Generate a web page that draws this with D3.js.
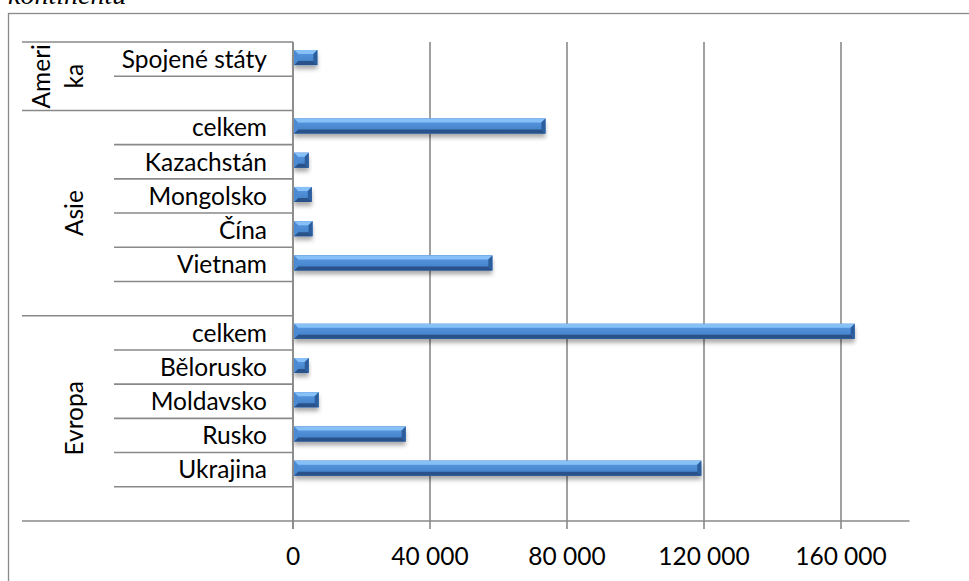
<!DOCTYPE html>
<html>
<head>
<meta charset="utf-8">
<script src="https://cdn.jsdelivr.net/npm/d3@7"></script>
<style>
  html, body { margin: 0; padding: 0; background: #ffffff; }
  svg { display: block; }
</style>
</head>
<body>
<svg id="chart" width="969" height="581"></svg>
<script>
// ---- data (top-to-bottom order as displayed) ----
const categories = ["Spojené státy", "", "celkem", "Kazachstán", "Mongolsko", "Čína", "Vietnam", "",
                    "celkem", "Bělorusko", "Moldavsko", "Rusko", "Ukrajina", ""];
const categoryGroups = ["Amerika", "Amerika", "Asie", "Asie", "Asie", "Asie", "Asie", "Asie",
                        "Evropa", "Evropa", "Evropa", "Evropa", "Evropa", "Evropa"];
const values = [7100, null, 73700, 4600, 5500, 5700, 58200, null,
                164000, 4600, 7500, 32900, 119200, null];
const groups = ["Amerika", "Asie", "Evropa"];
const groupLabelLines = [["Ameri", "ka"], ["Asie"], ["Evropa"]];
const tickValues = [0, 40000, 80000, 120000, 160000];
const axisMax = 180000;
const titleText = "kontinentu";

// ---- layout ----
const svg = d3.select("#chart");
const W = 969, H = 581;
const plotLeft = 293, plotRight = 909.5, plotTop = 42, plotBottom = 521;
const lineColor = "#898989";
const fontFamily = "Lato, 'Open Sans', sans-serif";
const fontSize = 24.5;

const x = d3.scaleLinear().domain([0, axisMax]).range([plotLeft, plotRight]);
const y = d3.scaleBand().domain(d3.range(categories.length)).range([plotTop, plotBottom]);

const fmt = d3.formatLocale({decimal: ",", thousands: " ", grouping: [3], currency: ["", ""]}).format(",d");

// defs: shadow
const defs = svg.append("defs");
const f = defs.append("filter").attr("id", "shadow").attr("x", "-20%").attr("y", "-50%").attr("width", "140%").attr("height", "250%");
f.append("feDropShadow").attr("dx", 0).attr("dy", 4).attr("stdDeviation", 2.2)
  .attr("flood-color", "#000").attr("flood-opacity", 0.33);
const g1 = defs.append("linearGradient").attr("id", "face").attr("x1", 0).attr("y1", 0).attr("x2", 0).attr("y2", 1);
g1.append("stop").attr("offset", "0%").attr("stop-color", "#5b9be3");
g1.append("stop").attr("offset", "100%").attr("stop-color", "#3f7cc4");

// background
svg.append("rect").attr("width", W).attr("height", H).attr("fill", "#fff");

// title fragment (cut off at top, as in the reference)
svg.append("text").attr("x", 8).attr("y", 4)
  .attr("font-family", "'Liberation Serif', 'Times New Roman', serif")
  .attr("font-style", "italic").attr("font-size", 28).attr("fill", "#000")
  .text(titleText);

// outer chart frame
svg.append("rect").attr("x", 8.5).attr("y", 13.5).attr("width", 1000).attr("height", 600)
  .attr("fill", "none").attr("stroke", lineColor).attr("stroke-width", 1.3);

// vertical gridlines + ticks
svg.append("g").selectAll("line.grid").data(tickValues).join("line")
  .attr("class", "grid")
  .attr("x1", d => x(d)).attr("x2", d => x(d))
  .attr("y1", plotTop).attr("y2", plotBottom + 8)
  .attr("stroke", lineColor).attr("stroke-width", 1.6);

// x axis line
svg.append("line").attr("x1", 22).attr("x2", plotRight)
  .attr("y1", plotBottom).attr("y2", plotBottom)
  .attr("stroke", lineColor).attr("stroke-width", 1.6);

// category separator lines
const boundaries = d3.range(categories.length);
svg.append("g").selectAll("line").data(boundaries).join("line")
  .attr("x1", i => (i === 0 || categoryGroups[i] !== categoryGroups[i - 1]) ? 22 : 114)
  .attr("x2", plotLeft)
  .attr("y1", i => y(i)).attr("y2", i => y(i))
  .attr("stroke", lineColor).attr("stroke-width", 1.6);

// bars with bevel
const barH = 15;
const bev = 4;
const barsG = svg.append("g");
categories.forEach((c, i) => {
  const v = values[i];
  if (v == null) return;
  const x0 = x(0) + 1, x1 = x(v);
  const yc = y(i) + y.bandwidth() / 2 - 1.5;
  const y0 = yc - barH / 2, y1 = yc + barH / 2;
  const b = Math.min(bev, (x1 - x0) / 2);
  const g = barsG.append("g");
  g.append("rect").attr("x", x0).attr("y", y0).attr("width", x1 - x0).attr("height", y1 - y0)
    .attr("fill", "#3d6fab").attr("filter", "url(#shadow)");
  g.append("rect").attr("x", x0).attr("y", y0).attr("width", x1 - x0).attr("height", y1 - y0)
    .attr("fill", "url(#face)");
  const poly = pts => pts.map(p => p.join(",")).join(" ");
  g.append("polygon").attr("points", poly([[x0, y0], [x1, y0], [x1 - b, y0 + b], [x0 + b, y0 + b]]))
    .attr("fill", "#86c0f7");
  g.append("polygon").attr("points", poly([[x0, y1], [x1, y1], [x1 - b, y1 - b], [x0 + b, y1 - b]]))
    .attr("fill", "#2a528a");
  g.append("polygon").attr("points", poly([[x0, y0], [x0 + b, y0 + b], [x0 + b, y1 - b], [x0, y1]]))
    .attr("fill", "#4c8bd4");
  g.append("polygon").attr("points", poly([[x1, y0], [x1 - b, y0 + b], [x1 - b, y1 - b], [x1, y1]]))
    .attr("fill", "#2c5d9c");
});

// category axis line
svg.append("line").attr("x1", plotLeft).attr("x2", plotLeft)
  .attr("y1", plotTop).attr("y2", plotBottom + 8)
  .attr("stroke", lineColor).attr("stroke-width", 1.6);

// category labels
svg.append("g").selectAll("text").data(categories).join("text")
  .attr("x", 267)
  .attr("y", (d, i) => y(i) + y.bandwidth() / 2)
  .attr("dy", "0.36em")
  .attr("text-anchor", "end")
  .attr("font-family", fontFamily).attr("font-size", fontSize).attr("fill", "#000")
  .text(d => d);

// group labels (rotated)
groups.forEach((gName, gi) => {
  const idx = categoryGroups.map((g, i) => g === gName ? i : -1).filter(i => i >= 0);
  const top = y(idx[0]), bottom = y(idx[idx.length - 1]) + y.bandwidth();
  const cy = (top + bottom) / 2;
  const lines = groupLabelLines[gi];
  lines.forEach((ln, li) => {
    const cx = 74 - (lines.length - 1 - li) * 33;
    svg.append("text")
      .attr("transform", `translate(${cx},${cy}) rotate(-90)`)
      .attr("text-anchor", "middle").attr("dy", "0.36em")
      .attr("font-family", fontFamily).attr("font-size", fontSize).attr("fill", "#000")
      .text(ln);
  });
});

// x tick labels
svg.append("g").selectAll("text").data(tickValues).join("text")
  .attr("x", d => x(d)).attr("y", 565)
  .attr("text-anchor", "middle")
  .attr("font-family", fontFamily).attr("font-size", fontSize).attr("fill", "#000")
  .text(d => fmt(d));
</script>
</body>
</html>
